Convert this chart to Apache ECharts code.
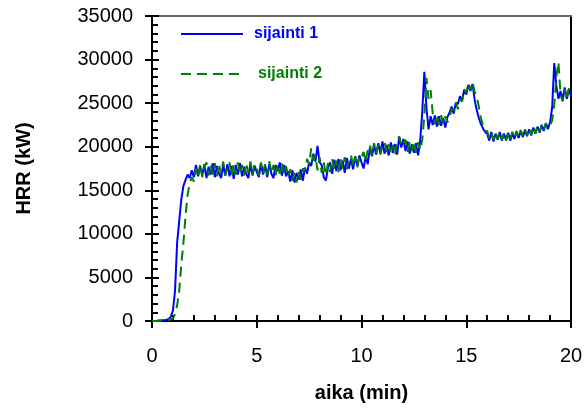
<!DOCTYPE html>
<html><head><meta charset="utf-8">
<script src="https://cdn.jsdelivr.net/npm/echarts@6/dist/echarts.min.js"></script>
<style>html,body{margin:0;padding:0;background:#fff}#c{width:586px;height:409px}</style>
</head><body><div id="c"></div>
<script>
var timeMin = [
0,0.1,0.2,0.3,0.4,0.5,0.6,0.7,0.8,0.9,
1,1.1,1.2,1.3,1.4,1.5,1.6,1.7,1.8,1.9,
2,2.1,2.2,2.3,2.4,2.5,2.6,2.7,2.8,2.9,
3,3.1,3.2,3.3,3.4,3.5,3.6,3.7,3.8,3.9,
4,4.1,4.2,4.3,4.4,4.5,4.6,4.7,4.8,4.9,
5,5.1,5.2,5.3,5.4,5.5,5.6,5.7,5.8,5.9,
6,6.1,6.2,6.3,6.4,6.5,6.6,6.7,6.8,6.9,
7,7.1,7.2,7.3,7.4,7.5,7.6,7.7,7.8,7.9,
8,8.1,8.2,8.3,8.4,8.5,8.6,8.7,8.8,8.9,
9,9.1,9.2,9.3,9.4,9.5,9.6,9.7,9.8,9.9,
10,10.1,10.2,10.3,10.4,10.5,10.6,10.7,10.8,10.9,
11,11.1,11.2,11.3,11.4,11.5,11.6,11.7,11.8,11.9,
12,12.1,12.2,12.3,12.4,12.5,12.6,12.7,12.8,12.9,
13,13.1,13.2,13.3,13.4,13.5,13.6,13.7,13.8,13.9,
14,14.1,14.2,14.3,14.4,14.5,14.6,14.7,14.8,14.9,
15,15.1,15.2,15.3,15.4,15.5,15.6,15.7,15.8,15.9,
16,16.1,16.2,16.3,16.4,16.5,16.6,16.7,16.8,16.9,
17,17.1,17.2,17.3,17.4,17.5,17.6,17.7,17.8,17.9,
18,18.1,18.2,18.3,18.4,18.5,18.6,18.7,18.8,18.9,
19,19.1,19.2,19.3,19.4,19.5,19.6,19.7,19.8,19.9,
20];

var sijainti1 = [
0,0,0,50,50,100,100,150,250,500,
1200,3500,9000,11500,14000,15500,16200,16800,16400,17300,
16500,17900,16600,17800,16700,18000,16400,17700,16800,18100,
16500,17800,16900,16400,17900,16700,18000,16600,17800,16300,
17900,16800,18100,16600,17700,16900,16400,18000,16700,17800,
17100,16500,18100,16800,17900,16500,18000,16900,16400,17900,
17200,18200,16700,17900,16600,17200,16000,17300,15900,17000,
16200,17400,16100,17600,16900,18200,17800,19200,18300,20100,
18200,17900,16500,16100,17600,18200,16900,18500,17200,18600,
17300,18400,17000,18700,17500,18600,17400,18900,17800,19000,
18200,17500,18900,18000,19900,18900,20200,19100,20400,19300,
20600,19200,20200,19000,20500,19300,20300,19100,21100,19900,
20900,19500,20600,19200,20300,19300,20400,19000,20600,24000,
28600,24500,22000,23500,22500,23600,22300,23500,22400,23300,
22200,23400,23900,24600,23800,25000,24900,25800,25300,26500,
26000,27100,26400,27200,25400,24200,23300,22600,22100,21700,
21500,20700,21700,20600,21500,20800,21700,20700,21500,20800,
21600,20700,21500,20900,21700,21000,21800,21100,21900,21200,
22000,21300,22200,21500,22300,21600,22500,21800,22700,22000,
22800,24500,29600,27000,25500,26400,25300,26800,25500,26600,
25800];

var sijainti2 = [
0,0,0,0,50,50,100,100,150,200,
300,800,1800,3500,6500,9000,12000,14500,15800,16500,
16000,17500,16600,18000,16500,17700,18200,16700,17900,16800,
18100,16600,18000,16900,18300,16700,17800,18200,16600,18000,
16800,18200,16900,17900,16700,18100,17000,18300,16800,18000,
17600,16700,18200,16900,18000,16800,18300,17000,17900,16700,
18000,16900,18100,16800,17800,16600,17400,16100,17000,15900,
17200,16200,17500,17200,18600,18000,19800,18400,18900,17300,
18800,17000,18200,16700,18100,17100,18600,17300,18400,17100,
18700,17500,18800,17400,18500,19000,17800,18900,17600,18900,
18700,19400,18300,19700,20200,19000,20400,19300,20200,19100,
20100,20500,19400,20300,19200,20200,19000,20600,21200,20100,
20400,20800,19400,20500,19500,20600,19300,20500,19600,20800,
23500,27900,25500,26500,23800,22600,23700,22500,23600,22700,
23500,22800,23400,24300,24200,25100,24300,25400,25200,26600,
26200,27300,26500,27400,26300,25800,24600,23300,22400,21800,
21800,21000,21600,20800,21600,20900,21700,20800,21600,20700,
21500,20900,21700,21000,21800,21100,21900,21200,22000,21300,
22100,21400,22300,21500,22400,21700,22500,21900,22700,22200,
22500,23000,24800,28000,29700,26000,25200,26600,25400,26700,
26000];

var seriesNames = ['sijainti 1', 'sijainti 2'];
var xTicks = [0, 5, 10, 15, 20];
var yTicks = [0, 5000, 10000, 15000, 20000, 25000, 30000, 35000];

function pairs(vals) { return timeMin.map(function (t, i) { return [t, vals[i]]; }); }

var FONT = '"Liberation Sans", Arial, sans-serif';
var chart = echarts.init(document.getElementById('c'), null, {renderer: 'canvas'});
var xMin = xTicks[0], xMax = xTicks[xTicks.length - 1];
var yMin = yTicks[0], yMax = yTicks[yTicks.length - 1];
var xInt = xTicks[1] - xTicks[0], yInt = yTicks[1] - yTicks[0];

chart.setOption({
  animation: false,
  backgroundColor: '#fff',
  grid: {left: 152, right: 15, top: 16, bottom: 88, containLabel: false},
  legend: {
    orient: 'vertical', left: 180, top: 26, padding: 0,
    itemWidth: 62, itemHeight: 14, itemGap: 24,
    itemStyle: {opacity: 0},
    data: [
      {name: seriesNames[0], textStyle: {color: '#0000ff', padding: [0, 0, 0, 6]}},
      {name: seriesNames[1], textStyle: {color: '#008000', padding: [0, 0, 0, 10]}}
    ],
    textStyle: {fontFamily: FONT, fontSize: 16, fontWeight: 'bold', padding: [0, 0, 0, 6]}
  },
  xAxis: [
    {type: 'value', position: 'bottom', min: xMin, max: xMax, interval: xInt,
     name: 'aika (min)', nameLocation: 'middle', nameGap: 62,
     nameTextStyle: {fontFamily: FONT, fontSize: 20, fontWeight: 'bold', color: '#000'},
     axisLine: {show: true, onZero: false, lineStyle: {color: '#000', width: 2}},
     axisTick: {show: true, inside: true, length: 6, lineStyle: {color: '#000', width: 2}},
     minorTick: {show: true, splitNumber: 5, length: 6, lineStyle: {color: '#000', width: 2}},
     axisLabel: {show: true, margin: 25, fontFamily: FONT, fontSize: 20, color: '#000',
                 formatter: function (v) { return String(v); }},
     splitLine: {show: false}},
    {type: 'value', position: 'bottom', min: xMin, max: xMax, interval: xInt,
     axisLine: {show: false, onZero: false},
     axisTick: {show: true, inside: false, length: 7, lineStyle: {color: '#000', width: 2}},
     axisLabel: {show: false}, splitLine: {show: false}},
    {type: 'value', position: 'top', min: xMin, max: xMax, interval: xInt,
     axisLine: {show: true, onZero: false, lineStyle: {color: '#666', width: 2}},
     axisTick: {show: false}, axisLabel: {show: false}, splitLine: {show: false}}
  ],
  yAxis: [
    {type: 'value', position: 'left', min: yMin, max: yMax, interval: yInt,
     name: 'HRR (kW)', nameLocation: 'middle', nameGap: 118,
     nameTextStyle: {fontFamily: FONT, fontSize: 20, fontWeight: 'bold', color: '#000'},
     axisLine: {show: true, onZero: false, lineStyle: {color: '#000', width: 2}},
     axisTick: {show: true, inside: true, length: 7, lineStyle: {color: '#000', width: 2}},
     minorTick: {show: true, splitNumber: 5, length: 6, lineStyle: {color: '#000', width: 2}},
     axisLabel: {show: true, margin: 19, fontFamily: FONT, fontSize: 20, color: '#000',
                 formatter: function (v) { return String(v); }},
     splitLine: {show: false}},
    {type: 'value', position: 'left', min: yMin, max: yMax, interval: yInt,
     axisLine: {show: false, onZero: false},
     axisTick: {show: true, inside: false, length: 7, lineStyle: {color: '#000', width: 2}},
     axisLabel: {show: false}, splitLine: {show: false}},
    {type: 'value', position: 'right', min: yMin, max: yMax, interval: yInt,
     axisLine: {show: true, onZero: false, lineStyle: {color: '#000', width: 2}},
     axisTick: {show: false}, axisLabel: {show: false}, splitLine: {show: false}}
  ],
  series: [
    {name: seriesNames[0], type: 'line', xAxisIndex: 0, yAxisIndex: 0, data: pairs(sijainti1),
     showSymbol: false, symbol: 'none', smooth: false,
     lineStyle: {color: '#0000ff', width: 2}, itemStyle: {color: '#0000ff'}},
    {name: seriesNames[1], type: 'line', xAxisIndex: 0, yAxisIndex: 0, data: pairs(sijainti2),
     showSymbol: false, symbol: 'none', smooth: false,
     lineStyle: {color: '#008000', width: 2, type: [10, 6]}, itemStyle: {color: '#008000'}}
  ]
});
</script></body></html>
